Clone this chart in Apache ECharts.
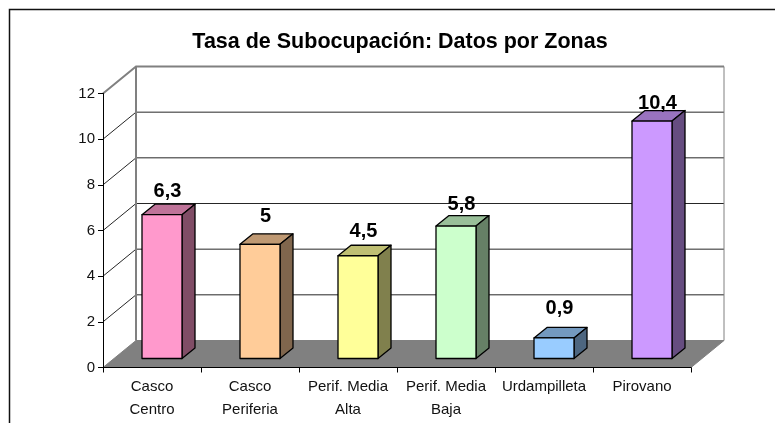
<!DOCTYPE html>
<html>
<head>
<meta charset="utf-8">
<style>html,body{margin:0;padding:0;background:#fff}#c{width:775px;height:423px}</style>
<script src="https://cdn.jsdelivr.net/npm/echarts@6/dist/echarts.min.js"></script>
</head>
<body>
<div id="c"></div>
<script>
const titleText = 'Tasa de Subocupación: Datos por Zonas';
const categories = ['Casco\nCentro', 'Casco\nPeriferia', 'Perif. Media\nAlta', 'Perif. Media\nBaja', 'Urdampilleta', 'Pirovano'];
const values = [6.3, 5, 4.5, 5.8, 0.9, 10.4];
const valueLabels = ['6,3', '5', '4,5', '5,8', '0,9', '10,4'];
const barColors = ['#FF99CC', '#FFCC99', '#FFFF99', '#CCFFCC', '#99CCFF', '#CC99FF'];
const yTicks = [0, 2, 4, 6, 8, 10, 12];
// Extra lift of each value label above its bar top, as the source chart placed them
const labelLift = [0, 5, 1, -1, 6, -5];

// 3D look constants (px)
const wallDX = 33, wallDY = 27;     // depth of the whole chart box
const barDX = 13, barDY = 10.5;     // depth of one bar
const barInsetX = 10, barInsetY = 9; // bar's front face offset from the front plane
const barWidthRatio = 40 / 98;

function shade(hex, k) {
  const n = parseInt(hex.slice(1), 16);
  const c = [(n >> 16) & 255, (n >> 8) & 255, n & 255].map(v => Math.round(v * k));
  return 'rgb(' + c.join(',') + ')';
}

const chart = echarts.init(document.getElementById('c'), null, {renderer: 'canvas'});

function floorItem(params, api) {
  const cs = params.coordSys;
  const y0 = api.coord([0, 0])[1];
  const xl = cs.x, xr = cs.x + cs.width;
  const pts = [[xl, y0], [xr, y0], [xr + wallDX, y0 - wallDY], [xl + wallDX, y0 - wallDY]];
  return {type: 'polygon', shape: {points: pts},
          style: {fill: '#808080', stroke: '#808080', lineWidth: 1}};
}

function wallItem(params, api) {
  const cs = params.coordSys;
  const v = api.value(0);
  const y = api.coord([0, v])[1];
  const xl = cs.x, xr = cs.x + cs.width;
  const top = v === yTicks[yTicks.length - 1];
  const children = [];
  if (v > 0) {
    const stroke = top ? '#808080' : '#262626';
    children.push({type: 'polyline',
      shape: {points: [[xl, y], [xl + wallDX, y - wallDY], [xr + wallDX, y - wallDY]]},
      style: {stroke: stroke, fill: null, lineWidth: top ? 2 : 1}});
  }
  if (top) {
    const yb = api.coord([0, 0])[1];
    children.push({type: 'line', shape: {x1: xl + wallDX, y1: y - wallDY, x2: xl + wallDX, y2: yb - wallDY},
      style: {stroke: '#808080', lineWidth: 2}});
    children.push({type: 'line', shape: {x1: xr + wallDX, y1: y - wallDY, x2: xr + wallDX, y2: yb - wallDY},
      style: {stroke: '#808080', lineWidth: 1}});
  }
  return {type: 'group', children: children};
}

function barItem(params, api) {
  const i = api.value(0);
  const v = api.value(1);
  const band = api.size([1, 0])[0];
  const w = band * barWidthRatio;
  const p0 = api.coord([i, 0]);
  const p1 = api.coord([i, v]);
  const x = p0[0] + barInsetX - w / 2;
  const b = p0[1] - barInsetY;
  const t = p1[1] - barInsetY;
  const color = barColors[i];
  const line = {stroke: '#000', lineWidth: 1.3, lineJoin: 'round'};
  return {type: 'group', children: [
    {type: 'polygon', shape: {points: [[x, t], [x + w, t], [x + w + barDX, t - barDY], [x + barDX, t - barDY]]},
     style: Object.assign({fill: shade(color, 0.75)}, line)},
    {type: 'polygon', shape: {points: [[x + w, t], [x + w + barDX, t - barDY], [x + w + barDX, b - barDY], [x + w, b]]},
     style: Object.assign({fill: shade(color, 0.5)}, line)},
    {type: 'rect', shape: {x: x, y: t, width: w, height: b - t},
     style: Object.assign({fill: color}, line)},
    {type: 'text', x: x + w / 2 + 5.5, y: p1[1] - 32 - labelLift[i],
     style: {text: valueLabels[i], fill: '#000', font: 'bold 20px "Liberation Sans", Arial, sans-serif',
             align: 'center', verticalAlign: 'middle'}}
  ]};
}

chart.setOption({
  animation: false,
  backgroundColor: '#fff',
  textStyle: {fontFamily: '"Liberation Sans", Arial, sans-serif'},
  title: {
    text: titleText, left: 395, top: 26, textAlign: 'center',
    textStyle: {fontSize: 21.5, fontWeight: 'bold', color: '#000', fontFamily: '"Liberation Sans", Arial, sans-serif'}
  },
  graphic: [
    {type: 'polyline', silent: true, z: 0,
     shape: {points: [[9.5, 423], [9.5, 9.5], [775, 9.5]]},
     style: {stroke: '#111', fill: null, lineWidth: 1.5}}
  ],
  grid: {left: 103, right: 84, top: 93.5, bottom: 55.5},
  xAxis: {
    type: 'category', data: categories,
    axisLine: {show: true, lineStyle: {color: '#000', width: 1}},
    axisTick: {show: true, alignWithLabel: false, length: 5, lineStyle: {color: '#000'}},
    axisLabel: {color: '#111', fontSize: 15, lineHeight: 23, margin: 8, interval: 0},
    splitLine: {show: false}, z: 5
  },
  yAxis: {
    type: 'value', min: 0, max: 12, interval: 2,
    axisLine: {show: true, lineStyle: {color: '#000', width: 1}},
    axisTick: {show: true, length: 5, lineStyle: {color: '#000'}},
    axisLabel: {color: '#111', fontSize: 15, margin: 8},
    splitLine: {show: false}, z: 5
  },
  series: [
    {type: 'custom', name: 'pared', coordinateSystem: 'cartesian2d', clip: false, silent: true, z: 1,
     data: yTicks.map(v => [v]), encode: {y: 0}, renderItem: wallItem},
    {type: 'custom', name: 'piso', coordinateSystem: 'cartesian2d', clip: false, silent: true, z: 2,
     data: [[0]], encode: {y: 0}, renderItem: floorItem},
    {type: 'custom', name: 'Tasa de Subocupación', coordinateSystem: 'cartesian2d', clip: false, z: 3,
     data: values.map((v, i) => [i, v]), encode: {x: 0, y: 1}, renderItem: barItem}
  ]
});
</script>
</body>
</html>
